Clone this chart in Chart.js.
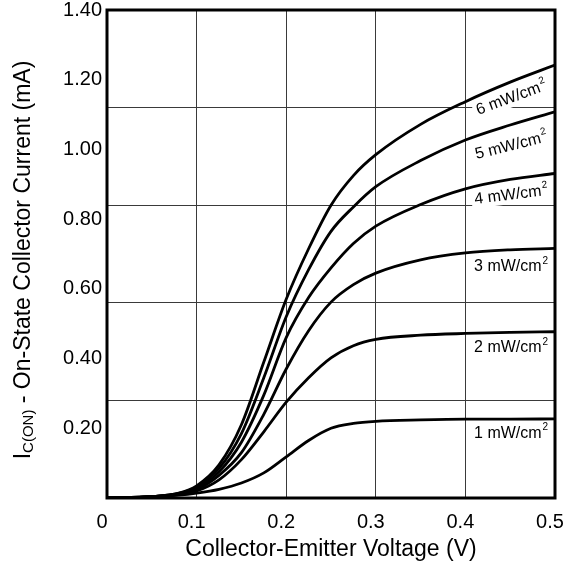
<!DOCTYPE html>
<html>
<head>
<meta charset="utf-8">
<script src="https://cdn.jsdelivr.net/npm/chart.js@4.4.1/dist/chart.umd.min.js"></script>
<style>
  html, body { margin: 0; padding: 0; background: #fff; }
  #wrap { width: 566px; height: 577px; }
</style>
</head>
<body>
<div id="wrap"><canvas id="ic-chart" width="566" height="577"></canvas></div>
<script>
// collector-emitter voltage (V), shared by all curves
const voltage = [0, 0.05, 0.08, 0.1, 0.125, 0.15, 0.175, 0.2, 0.225, 0.25, 0.275, 0.3, 0.35, 0.4, 0.45, 0.5];

// on-state collector current (mA) per irradiance
const current6 = [0, 0.004, 0.014, 0.035, 0.095, 0.21, 0.39, 0.57, 0.715, 0.84, 0.925, 0.985, 1.072, 1.137, 1.193, 1.242];
const current5 = [0, 0.004, 0.013, 0.032, 0.085, 0.185, 0.345, 0.52, 0.655, 0.765, 0.835, 0.893, 0.968, 1.027, 1.07, 1.108];
const current4 = [0, 0.004, 0.012, 0.028, 0.075, 0.16, 0.295, 0.46, 0.575, 0.66, 0.73, 0.78, 0.842, 0.887, 0.914, 0.931];
const current3 = [0, 0.004, 0.011, 0.024, 0.065, 0.13, 0.24, 0.37, 0.48, 0.562, 0.612, 0.645, 0.683, 0.703, 0.712, 0.716];
const current2 = [0, 0.004, 0.010, 0.020, 0.052, 0.11, 0.19, 0.275, 0.345, 0.402, 0.437, 0.455, 0.467, 0.472, 0.475, 0.477];
const current1 = [0, 0.003, 0.008, 0.014, 0.025, 0.043, 0.072, 0.118, 0.165, 0.2, 0.214, 0.22, 0.224, 0.226, 0.226, 0.227];

const seriesNames = ['6 mW/cm', '5 mW/cm', '4 mW/cm', '3 mW/cm', '2 mW/cm', '1 mW/cm'];
const seriesValues = [current6, current5, current4, current3, current2, current1];

// axis ticks
const xTickValues = [0, 0.1, 0.2, 0.3, 0.4, 0.5];
const xTickLabels = ['0', '0.1', '0.2', '0.3', '0.4', '0.5'];
const yTickValues = [0.2, 0.4, 0.6, 0.8, 1.0, 1.2, 1.4];
const yTickLabels = ['0.20', '0.40', '0.60', '0.80', '1.00', '1.20', '1.40'];
const yGridValues = [0.28, 0.56, 0.84, 1.12];

const FONT = '"Liberation Sans", Arial, Helvetica, sans-serif';
const GRID = '#3a3a3a';

// where each curve label sits (data units) and its tilt
const labelSpots = [
    { x: 0.451, y: 1.150, angle: -20 },
    { x: 0.451, y: 1.013, angle: -14 },
    { x: 0.451, y: 0.872, angle: -7 },
    { x: 0.451, y: 0.666, angle: 0 },
    { x: 0.451, y: 0.433, angle: 0 },
    { x: 0.451, y: 0.189, angle: 0 }
];

const curveLabels = {
    id: 'curveLabels',
    beforeDatasetsDraw(chart) {
        const ctx = chart.ctx;
        const xs = chart.scales.x, ys = chart.scales.y;
        labelSpots.forEach((spot, i) => {
            const px = xs.getPixelForValue(spot.x);
            const py = ys.getPixelForValue(spot.y);
            ctx.save();
            ctx.translate(px, py);
            ctx.rotate(spot.angle * Math.PI / 180);
            ctx.font = '16px ' + FONT;
            const w1 = ctx.measureText(seriesNames[i]).width;
            ctx.font = '10px ' + FONT;
            const w2 = ctx.measureText('2').width;
            const w = w1 + w2 + 1;
            ctx.fillStyle = '#fff';
            ctx.fillRect(-w / 2 - 3, -10, w + 6, 20);
            ctx.fillStyle = '#000';
            ctx.textBaseline = 'middle';
            ctx.textAlign = 'left';
            ctx.font = '16px ' + FONT;
            ctx.fillText(seriesNames[i], -w / 2, 1);
            ctx.font = '10px ' + FONT;
            ctx.fillText('2', -w / 2 + w1 + 1, -5);
            ctx.restore();
        });
    }
};

const frameAndTitle = {
    id: 'frameAndTitle',
    afterDraw(chart) {
        const ctx = chart.ctx;
        const a = chart.chartArea;
        ctx.save();
        ctx.strokeStyle = '#000';
        ctx.lineWidth = 3;
        ctx.strokeRect(a.left, a.top, a.right - a.left, a.bottom - a.top);

        // y axis title with subscript
        const rest = ' - On-State Collector Current (mA)';
        ctx.translate(24, (a.top + a.bottom) / 2 + 6);
        ctx.rotate(-Math.PI / 2);
        ctx.fillStyle = '#000';
        ctx.textBaseline = 'middle';
        ctx.textAlign = 'left';
        ctx.font = '23px ' + FONT;
        const w1 = ctx.measureText('I').width;
        const w3 = ctx.measureText(rest).width;
        ctx.font = '15px ' + FONT;
        const w2 = ctx.measureText('C(ON)').width;
        let x = -(w1 + w2 + w3) / 2;
        ctx.font = '23px ' + FONT;
        ctx.fillText('I', x, 0);
        x += w1;
        ctx.font = '15px ' + FONT;
        ctx.fillText('C(ON)', x, 5);
        x += w2;
        ctx.font = '23px ' + FONT;
        ctx.fillText(rest, x, 0);
        ctx.restore();
    }
};

const datasets = seriesValues.map((vals, i) => ({
    label: seriesNames[i] + '2',
    data: voltage.map((v, k) => ({ x: v, y: vals[k] })),
    borderColor: '#000',
    borderWidth: 2.8,
    pointRadius: 0,
    fill: false,
    cubicInterpolationMode: 'monotone'
}));

new Chart(document.getElementById('ic-chart'), {
    type: 'line',
    data: { datasets: datasets },
    options: {
        responsive: false,
        animation: false,
        layout: { padding: { top: 10, right: 11, left: 0, bottom: 0 } },
        plugins: {
            legend: { display: false },
            tooltip: { enabled: false }
        },
        scales: {
            x: {
                type: 'linear',
                min: 0,
                max: 0.5,
                afterFit: (scale) => {
                    scale.height = 79;
                    scale.paddingLeft = 0;
                    scale.paddingRight = 0;
                },
                afterBuildTicks: (scale) => {
                    scale.ticks = xTickValues.map(v => ({ value: v }));
                },
                ticks: {
                    autoSkip: false,
                    maxRotation: 0,
                    padding: 12,
                    labelOffset: -5,
                    color: '#000',
                    font: { family: FONT, size: 20 },
                    callback: (value) => {
                        const i = xTickValues.indexOf(value);
                        return i >= 0 ? xTickLabels[i] : '';
                    }
                },
                grid: { color: GRID, lineWidth: 1, drawTicks: false },
                border: { display: false },
                title: {
                    display: true,
                    text: 'Collector-Emitter Voltage (V)',
                    color: '#000',
                    font: { family: FONT, size: 23 },
                    padding: { top: 0, bottom: 14 }
                }
            },
            y: {
                type: 'linear',
                min: 0,
                max: 1.4,
                afterFit: (scale) => {
                    scale.width = 107;
                    scale.paddingTop = 0;
                    scale.paddingBottom = 0;
                },
                afterBuildTicks: (scale) => {
                    scale.ticks = yTickValues.concat(yGridValues)
                        .sort((a, b) => a - b)
                        .map(v => ({ value: v }));
                },
                ticks: {
                    autoSkip: false,
                    padding: 5,
                    color: '#000',
                    font: { family: FONT, size: 20 },
                    callback: (value) => {
                        const i = yTickValues.indexOf(value);
                        return i >= 0 ? yTickLabels[i] : '';
                    }
                },
                grid: {
                    drawTicks: false,
                    lineWidth: 1,
                    color: (c) => (c.tick && yGridValues.includes(c.tick.value)) ? GRID : 'rgba(0,0,0,0)'
                },
                border: { display: false }
            }
        }
    },
    plugins: [curveLabels, frameAndTitle]
});
</script>
</body>
</html>
